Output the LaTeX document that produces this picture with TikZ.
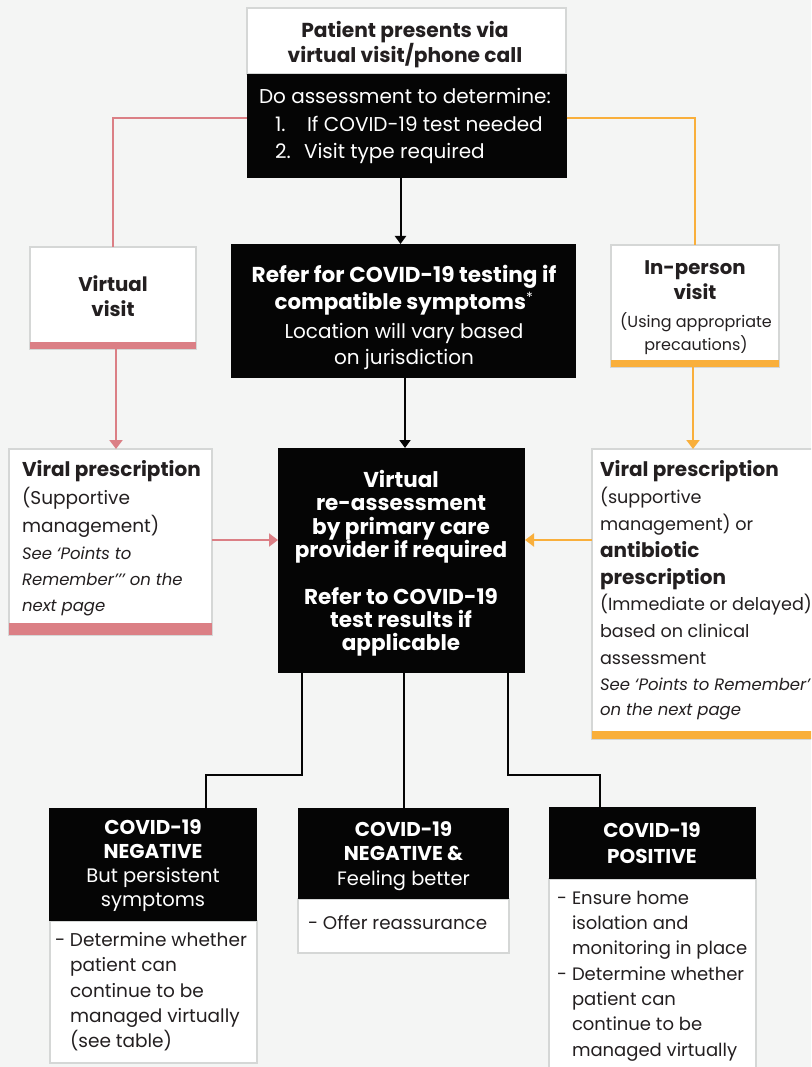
\documentclass[tikz,border=0pt]{standalone}
\usepackage{fontspec}
\setmainfont{Poppins}
\usetikzlibrary{arrows.meta,calc}
\definecolor{bg}{HTML}{F4F5F4}
\definecolor{bd}{HTML}{D5D7D6}
\definecolor{redc}{HTML}{DB7F85}
\definecolor{orc}{HTML}{F9AF3B}
\definecolor{blk}{HTML}{050505}
\definecolor{ink}{HTML}{231F20}
\newcommand\Z{\rule{0pt}{0.8em}}
\newcommand\Bf[2]{{\fontsize{#1}{#1}\selectfont\bfseries #2}}
\newcommand\Rf[2]{{\fontsize{#1}{#1}\selectfont #2}}
\tikzset{
 wbox/.style={draw=bd, line width=1.5pt, fill=white, inner sep=0pt, outer sep=0pt, anchor=north west},
 kbox/.style={fill=blk, draw=none, inner sep=0pt, outer sep=0pt, anchor=north west},
 txt/.style={inner sep=0pt, outer sep=0pt, text=ink},
 wtxt/.style={inner sep=0pt, outer sep=0pt, text=white},
 fs/.style 2 args={font=\fontsize{#1}{#2}\selectfont},
 redline/.style={draw=redc, line width=2pt},
 orline/.style={draw=orc, line width=2pt},
 kline/.style={draw=blk, line width=2pt},
 ctip/.style={-{Triangle[width=13pt,length=9pt]}},
 ktip/.style={-{Triangle[width=11pt,length=8pt]}},
}
\begin{document}
\begin{tikzpicture}[x=1pt,y=-1pt]
\clip (0,0) rectangle (811,1067);
\fill[bg] (0,0) rectangle (811,1067);

% ---- top
\node[wbox, minimum width=319pt, minimum height=66pt] (pat) at (247,8) {};
\node[kbox, minimum width=320pt, minimum height=104pt] (assess) at (246.5,74) {};
\node[txt, fs={20.2}{23}, anchor=north, align=center] (patt) at (405,20.9)
 {\Z\textbf{Patient presents via}\\\textbf{virtual visit/phone call}};
\node[wtxt, fs={20}{27.5}, anchor=north west, align=left] (assesst) at (259,88)
 {\Z Do assessment to determine:\\\hspace*{16pt}\makebox[32pt][l]{1.}If COVID-19 test needed\\\hspace*{16pt}\makebox[29pt][l]{2.}Visit type required};

% ---- second row
\node[wbox, minimum width=166pt, minimum height=102pt] (vv) at (30,247) {};
\fill[redc] ($(vv.south west)+(0,-7)$) rectangle (vv.south east);
\node[txt, fs={19.8}{25}, anchor=north, align=center] (vvt) at (113,276.1)
 {\Z\textbf{Virtual}\\\textbf{visit}};

\node[kbox, minimum width=345pt, minimum height=134pt] (refer) at (231,244) {};
\node[wtxt, fs={20}{27}, anchor=north, align=center] (refert) at (404,265.5)
 {\Z\Bf{21.6}{Refer for COVID-19 testing if}\\\Bf{21.4}{compatible symptoms}\textsuperscript{*}\\[2pt]Location will vary based\\[-1pt]on jurisdiction};

\node[wbox, minimum width=168pt, minimum height=122pt] (ip) at (611,245) {};
\fill[orc] ($(ip.south west)+(0,-7)$) rectangle (ip.south east);
\node[txt, fs={19.7}{25}, anchor=north, align=center] (ipt) at (695,259.1)
 {\Z\textbf{In-person}\\\textbf{visit}};
\node[txt, fs={16}{23}, anchor=north, align=center] (ipt2) at (696,312.8)
 {\Z(Using appropriate\\precautions)};

% ---- third row
\node[wbox, minimum width=203pt, minimum height=186pt] (vpl) at (9,449) {};
\fill[redc] ($(vpl.south west)+(0,-12)$) rectangle (vpl.south east);
\node[txt, fs={18.5}{28}, anchor=north west, align=left] (vplt) at (22,460.2)
 {\Z\Bf{20}{Viral prescription}\\(Supportive\\management)};
\node[txt, fs={16.5}{26}, anchor=north west, align=left] (vplt2) at (22,546.6)
 {\Z\textit{See ‘Points to}\\\textit{Remember’’’ on the}\\\textit{next page}};

\node[kbox, minimum width=247pt, minimum height=225pt] (reas) at (278,448) {};
\node[wtxt, fs={21.5}{23.3}, anchor=north, align=center] (reast) at (401,470.3)
 {\Z\textbf{Virtual}\\\textbf{re-assessment}\\\textbf{by primary care}\\\textbf{provider if required}\\[23.3pt]\textbf{Refer to COVID-19}\\\textbf{test results if}\\\textbf{applicable}};

\node[wbox, minimum width=240pt, minimum height=290pt] (vpr) at (592,449) {};
\fill[orc] ($(vpr.south west)+(0,-8)$) rectangle (vpr.south east);
\node[txt, fs={17.6}{26.8}, anchor=north west, align=left] (vprt) at (600,460.8)
 {\Z\Bf{20}{Viral prescription}\\(supportive\\management) or\\\Bf{20}{antibiotic}\\\Bf{20}{prescription}\\(Immediate or delayed)\\based on clinical\\assessment};
\node[txt, fs={16.5}{25}, anchor=north west, align=left] (vprt2) at (600,677.6)
 {\Z\textit{See ‘Points to Remember’}\\\textit{on the next page}};

% ---- bottom row
\node[wbox, minimum width=207pt, minimum height=142pt] (neg1b) at (50,921) {};
\node[kbox, minimum width=208pt, minimum height=113pt] (neg1) at (49,808) {};
\node[wtxt, fs={19.5}{24.3}, anchor=north, align=center] (neg1t) at (153,818.4)
 {\Z\Bf{20}{COVID-19}\\\Bf{20}{NEGATIVE}\\But persistent\\symptoms};
\node[txt, fs={18.5}{25.25}, anchor=north west, align=left] (neg1bt) at (55,931.7)
 {\Z\makebox[15pt][l]{-}Determine whether\\\hspace*{15pt}patient can\\\hspace*{15pt}continue to be\\\hspace*{15pt}managed virtually\\\hspace*{15pt}(see table)};

\node[wbox, minimum width=211pt, minimum height=54pt] (neg2b) at (298,899) {};
\node[kbox, minimum width=211pt, minimum height=91pt] (neg2) at (298,808) {};
\node[wtxt, fs={19.4}{24.5}, anchor=north, align=center] (neg2t) at (403.5,820.5)
 {\Z\Bf{20}{COVID-19}\\\Bf{20}{NEGATIVE \&}\\Feeling better};
\node[txt, fs={18.3}{25}, anchor=north west, align=left] (neg2bt) at (308,914.8)
 {\Z\makebox[15pt][l]{-}Offer reassurance};

\node[wbox, minimum width=207pt, minimum height=200pt] (posb) at (549,879) {};
\node[kbox, minimum width=207pt, minimum height=72pt] (pos) at (549,807) {};
\node[wtxt, fs={20}{26}, anchor=north, align=center] (post) at (652,821)
 {\Z\textbf{COVID-19}\\\textbf{POSITIVE}};
\node[txt, fs={18}{25.3}, anchor=north west, align=left] (posbt) at (557,889.9)
 {\Z\makebox[15pt][l]{-}Ensure home\\\hspace*{15pt}isolation and\\\hspace*{15pt}monitoring in place\\\makebox[15pt][l]{-}Determine whether\\\hspace*{15pt}patient can\\\hspace*{15pt}continue to be\\\hspace*{15pt}managed virtually};

% ---- connectors
\draw[redline] ([yshift=8pt]assess.west) -| (vv.north);
\draw[orline] ([yshift=8pt]assess.east) -| (ip.north);
\draw[kline, ktip] ([xshift=-6pt]assess.south) -- ([xshift=-6pt]assess.south |- refer.north);
\draw[kline, ktip] ([xshift=1.5pt]refer.south) -- ([xshift=1.5pt]refer.south |- reas.north);
\draw[redline, ctip] ([xshift=3pt]vv.south) -- ([xshift=3pt]vv.south |- vpl.north);
\draw[orline, ctip] ([xshift=-2pt]ip.south) -- ([xshift=-2pt]ip.south |- vpr.north);
\coordinate (ay) at (0,540);
\draw[redline, ctip] (vpl.east |- ay) -- (reas.west |- ay);
\draw[orline, ctip] (vpr.west |- ay) -- (reas.east |- ay);
\coordinate (j1) at (206,775);
\coordinate (j3) at (600,775);
\draw[kline] ([xshift=-99.5pt]reas.south) |- (j1) -- (j1 |- neg1.north);
\draw[kline] (reas.south -| neg2.north) -- (neg2.north);
\draw[kline] ([xshift=106.5pt]reas.south) |- (j3) -- (j3 |- pos.north);
\end{tikzpicture}
\end{document}
